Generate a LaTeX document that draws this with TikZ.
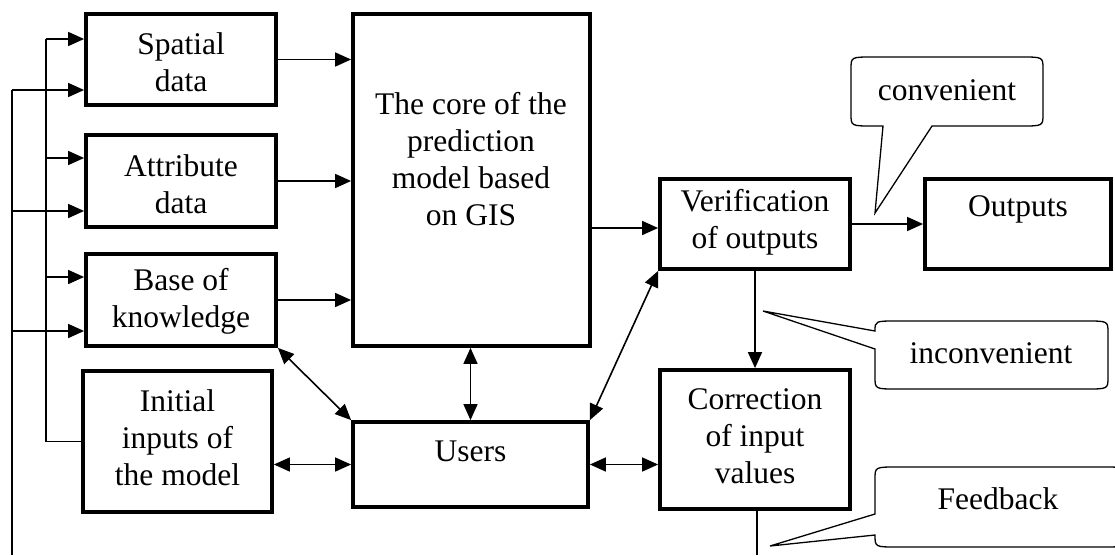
\documentclass[tikz,border=0pt]{standalone}
\usepackage{fontspec}
\setmainfont{Liberation Serif}
\usetikzlibrary{arrows.meta,calc}
\begin{document}
\begin{tikzpicture}[x=1pt,y=-1pt,
  box/.style={draw,line width=3.8pt,rectangle,inner sep=0pt},
  txt/.style={align=center,inner sep=0pt,font=\fontsize{31.5}{37}\selectfont},
  conn/.style={line width=1.6pt},
  arr/.style={conn,-{Triangle[length=16pt,width=14pt]}},
  darr/.style={conn,{Triangle[length=16pt,width=14pt]}-{Triangle[length=16pt,width=14pt]}},
  call/.style={draw,line width=1.3pt,fill=white}]
\fill[white] (0,0) rectangle (1115,555);
\useasboundingbox (0,0) rectangle (1115,555);
\clip (0,0) rectangle (1115,555);

% boxes
\node[box,minimum width=190pt,minimum height=91pt] (spatial) at (181,59.5) {};
\node[box,minimum width=190pt,minimum height=92pt] (attr) at (181,181) {};
\node[box,minimum width=190pt,minimum height=92pt] (base) at (181,300) {};
\node[box,minimum width=189pt,minimum height=141pt] (init) at (177.5,441.5) {};
\node[box,minimum width=237pt,minimum height=332pt] (core) at (471.5,180) {};
\node[box,minimum width=235pt,minimum height=85pt] (users) at (470.5,464.5) {};
\node[box,minimum width=190pt,minimum height=90pt] (verif) at (755,224) {};
\node[box,minimum width=186pt,minimum height=90pt] (outputs) at (1018,224) {};
\node[box,minimum width=190pt,minimum height=139pt] (corr) at (755,439.5) {};

% texts
\node[txt] (spatialT) at (181,62) {Spatial\\data};
\node[txt] (attrT) at (181,184) {Attribute\\data};
\node[txt] (baseT) at (181,301.5) {Base of\\knowledge};
\node[txt] (initT) at (177.5,438) {Initial\\inputs of\\the model};
\node[txt] (coreT) at (471,159) {The core of the\\prediction\\model based\\on GIS};
\node[txt] (usersT) at (470.5,451) {Users};
\node[txt] (verifT) at (755,222) {Verification\\of outputs};
\node[txt] (outputsT) at (1018,209) {Outputs};
\node[txt] (corrT) at (755,436.5) {Correction\\of input\\values};

% callouts
\draw[call] (875,213) -- (883,126) -- (873,126) .. controls (851,126) .. (851,114) -- (851,69) .. controls (851,57) .. (873,57) -- (1021,57) .. controls (1043,57) .. (1043,69) -- (1043,114) .. controls (1043,126) .. (1021,126) -- (932,126) -- cycle;
\node[txt] (convT) at (947,90) {convenient};
\draw[call] (763,311) -- (875,349) -- (875,377) .. controls (875,389) .. (897,389) -- (1086,389) .. controls (1108,389) .. (1108,377) -- (1108,333) .. controls (1108,321) .. (1086,321) -- (897,321) .. controls (875,321) .. (875,331) -- cycle;
\node[txt] (inconvT) at (991,353) {inconvenient};
\draw[call] (770,546) -- (875,535) .. controls (875,547) .. (897,547) -- (1103,547) .. controls (1125,547) .. (1125,535) -- (1125,479) .. controls (1125,467) .. (1103,467) -- (897,467) .. controls (875,467) .. (875,479) -- (875,514) -- cycle;
\node[txt] (fbT) at (998,499) {Feedback};

% main connectors
\coordinate (cv) at ($(verif.west)+(0,4)$);
\draw[arr] (spatial.east) -- (spatial.east -| core.west);
\draw[arr] (attr.east) -- (attr.east -| core.west);
\draw[arr] (base.east) -- (base.east -| core.west);
\draw[arr] (cv -| core.east) -- (cv);
\draw[arr] (verif.east) -- (outputs.west);
\draw[arr] (verif.south) -- (corr.north);
\draw[darr] (core.south -| users.north) -- (users.north);
\draw[darr] (base.south east) -- (users.north west);
\draw[darr] (users.north east) -- (verif.south west);
\draw[darr] (init.east |- users.west) -- (users.west);
\draw[darr] (users.east) -- (users.east -| corr.west);

% feedback lines
\coordinate (fbBot) at (757,555);
\draw[conn] (corr.south -| fbBot) -- (fbBot);
\coordinate (outBot) at (12,555);
\coordinate (o1) at (12,90);
\coordinate (o2) at (12,211);
\coordinate (o3) at (12,331);
\draw[conn] (outBot) -- (o1);
\draw[arr] (o1) -- (o1 -| spatial.west);
\draw[arr] (o2) -- (o2 -| attr.west);
\draw[arr] (o3) -- (o3 -| base.west);
\coordinate (i1) at (46,39);
\coordinate (i2) at (46,158);
\coordinate (i3) at (46,277);
\draw[conn] (init.west) -- (init.west -| i1) -- (i1);
\draw[arr] (i1) -- (i1 -| spatial.west);
\draw[arr] (i2) -- (i2 -| attr.west);
\draw[arr] (i3) -- (i3 -| base.west);
\end{tikzpicture}
\end{document}
